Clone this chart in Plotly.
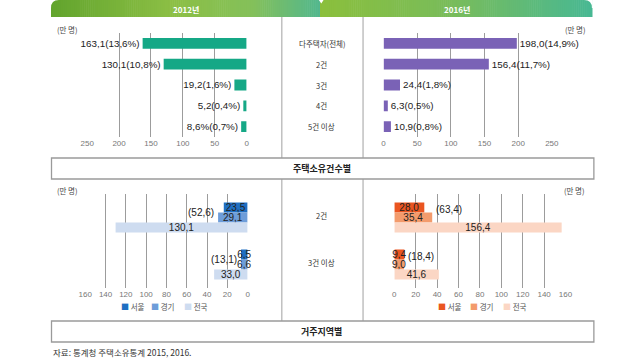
import plotly.graph_objects as go

W, H = 640, 360

# ---------------- data ----------------
count_cats = ["다주택자(전체)", "2건", "3건", "4건", "5건 이상"]
owners_2012 = [163.1, 130.1, 19.2, 5.2, 8.6]
share_2012 = [13.6, 10.8, 1.6, 0.4, 0.7]
owners_2016 = [198.0, 156.4, 24.4, 6.3, 10.9]
share_2016 = [14.9, 11.7, 1.8, 0.5, 0.8]
labels_2012 = ["163,1(13,6%)", "130,1(10,8%)", "19,2(1,6%)", "5,2(0,4%)", "8,6%(0,7%)"]
labels_2016 = ["198,0(14,9%)", "156,4(11,7%)", "24,4(1,8%)", "6,3(0,5%)", "10,9(0,8%)"]

region_cats = ["2건", "3건 이상"]
region_names = ["서울", "경기", "전국"]
seoul_2012 = [23.5, 6.5]
gyeonggi_2012 = [29.1, 6.6]
nation_2012 = [130.1, 33.0]
capital_2012 = [52.6, 13.1]
seoul_2016 = [28.0, 9.4]
gyeonggi_2016 = [35.4, 9.0]
nation_2016 = [156.4, 41.6]
capital_2016 = [63.4, 18.4]

count_ticks = [0, 50, 100, 150, 200, 250]
region_ticks = [0, 20, 40, 60, 80, 100, 120, 140, 160]

# ---------------- styles ----------------
KR = "Noto Sans CJK KR"
NUM = "Liberation Sans Narrow, Arial Narrow, Liberation Sans, Arial, sans-serif"
GREEN = "#15a886"
PURPLE = "#7a62b6"
BLUES = ["#1f6fc2", "#6e9dd9", "#cedcf0"]
ORANGES = ["#ea5520", "#f39b6c", "#fbd6c4"]
GRID = "#9c9c9c"


def px(x):
    return x / W


def py(y):
    return 1 - y / H


def fmt(v):
    return f"{v:.1f}".replace(".", ",")


fig = go.Figure()

# top charts
fig.add_trace(go.Bar(x=owners_2012, y=count_cats, orientation="h", xaxis="x", yaxis="y",
                     marker=dict(color=GREEN, line=dict(width=0)), width=0.52,
                     text=labels_2012, textposition="outside", cliponaxis=False, textangle=0,
                     textfont=dict(family=NUM, size=10, color="#222"),
                     showlegend=False, hoverinfo="skip"))
fig.add_trace(go.Bar(x=owners_2016, y=count_cats, orientation="h", xaxis="x2", yaxis="y2",
                     marker=dict(color=PURPLE, line=dict(width=0)), width=0.52,
                     text=labels_2016, textposition="outside", cliponaxis=False, textangle=0,
                     textfont=dict(family=NUM, size=10, color="#222"),
                     showlegend=False, hoverinfo="skip"))

# bottom charts
for series, col in zip([seoul_2012, gyeonggi_2012, nation_2012], BLUES):
    fig.add_trace(go.Bar(x=series, y=region_cats, orientation="h", xaxis="x3", yaxis="y3",
                         marker=dict(color=col, line=dict(width=0)),
                         text=[fmt(v) for v in series], textposition="inside", textangle=0,
                         insidetextanchor="middle", constraintext="none", cliponaxis=False,
                         textfont=dict(family=NUM, size=10, color="#222"),
                         showlegend=False, hoverinfo="skip"))
for series, col in zip([seoul_2016, gyeonggi_2016, nation_2016], ORANGES):
    fig.add_trace(go.Bar(x=series, y=region_cats, orientation="h", xaxis="x4", yaxis="y4",
                         marker=dict(color=col, line=dict(width=0)),
                         text=[fmt(v) for v in series], textposition="inside", textangle=0,
                         insidetextanchor="middle", constraintext="none", cliponaxis=False,
                         textfont=dict(family=NUM, size=10, color="#222"),
                         showlegend=False, hoverinfo="skip"))

xcommon = dict(showgrid=True, gridcolor=GRID, gridwidth=1, zeroline=False, showline=False,
               ticks="", tickfont=dict(family=NUM, size=8, color="#777"), fixedrange=True)
ycommon = dict(showgrid=False, showticklabels=False, zeroline=False, showline=False,
               autorange="reversed", type="category", fixedrange=True)

top_dom = [py(137), py(33)]
bot_dom = [py(288), py(194)]

fig.update_layout(
    xaxis=dict(domain=[px(82), px(245)], range=[250, 0], tickvals=count_ticks, anchor="y", **xcommon),
    yaxis=dict(domain=top_dom, anchor="x", **ycommon),
    xaxis2=dict(domain=[px(385), px(557)], range=[0, 250], tickvals=count_ticks, anchor="y2", **xcommon),
    yaxis2=dict(domain=top_dom, anchor="x2", **ycommon),
    xaxis3=dict(domain=[px(80), px(246)], range=[160, 0], tickvals=region_ticks, anchor="y3", **xcommon),
    yaxis3=dict(domain=bot_dom, anchor="x3", **ycommon),
    xaxis4=dict(domain=[px(396), px(571)], range=[0, 160], tickvals=region_ticks, anchor="y4", **xcommon),
    yaxis4=dict(domain=bot_dom, anchor="x4", **ycommon),
    barmode="group", bargap=0.36, bargroupgap=0,
    width=W, height=H, margin=dict(l=0, r=0, t=0, b=0),
    paper_bgcolor="white", plot_bgcolor="white",
    font=dict(family=KR, size=8, color="#333"),
)

shapes = []
annotations = []


def note(text, x, y, size, color, family=KR, xanchor="center", **kw):
    annotations.append(dict(text=text, x=px(x), y=py(y), xref="paper", yref="paper",
                            xanchor=xanchor, yanchor="middle", showarrow=False,
                            font=dict(family=family, size=size, color=color), **kw))


def lerp_color(stops, t):
    for (t0, c0), (t1, c1) in zip(stops[:-1], stops[1:]):
        if t0 <= t <= t1:
            f = 0 if t1 == t0 else (t - t0) / (t1 - t0)
            a = [int(c0[i:i + 2], 16) for i in (1, 3, 5)]
            b = [int(c1[i:i + 2], 16) for i in (1, 3, 5)]
            return "#" + "".join(f"{round(a[k] + (b[k] - a[k]) * f):02x}" for k in range(3))
    return stops[-1][1]


def tab(x0, x1, stops):
    step = 2
    x = x0
    while x < x1:
        xe = min(x + step, x1)
        t = ((x + xe) / 2 - x0) / (x1 - x0)
        shapes.append(dict(type="rect", xref="paper", yref="paper", x0=px(x), x1=px(xe + 0.6),
                           y0=py(17), y1=py(0), fillcolor=lerp_color(stops, t),
                           line=dict(width=0), layer="below"))
        x = xe


tab(45, 320, [(0, "#62a42d"), (0.45, "#8cbf45"), (0.75, "#84c05a"), (1, "#52b78e")])
tab(320, 598, [(0, "#8bbf3c"), (0.5, "#78bc5c"), (1, "#48b893")])

r = 8
# rounded corners masks
shapes.append(dict(type="path", xref="paper", yref="paper", layer="below",
                   path=f"M {px(44)},{py(-0.5)} L {px(45 + r)},{py(-0.5)} L {px(45 + r)},{py(0)} "
                        f"Q {px(45)},{py(0)} {px(45)},{py(r)} L {px(44)},{py(r)} Z",
                   fillcolor="white", line=dict(width=0)))
shapes.append(dict(type="path", xref="paper", yref="paper", layer="below",
                   path=f"M {px(599)},{py(-0.5)} L {px(598 - r)},{py(-0.5)} L {px(598 - r)},{py(0)} "
                        f"Q {px(598)},{py(0)} {px(598)},{py(r)} L {px(599)},{py(r)} Z",
                   fillcolor="white", line=dict(width=0)))
# centre notch
shapes.append(dict(type="path", xref="paper", yref="paper", layer="below",
                   path=f"M {px(318.5)},{py(-0.5)} L {px(324)},{py(-0.5)} L {px(321.3)},{py(3.5)} Z",
                   fillcolor="white", line=dict(width=0)))

note("<b>2012년</b>", 183, 9, 8, "white")
note("<b>2016년</b>", 460, 9, 8, "white")

# divider lines
for xx in (281, 364):
    shapes.append(dict(type="line", xref="paper", yref="paper", x0=px(xx), x1=px(xx),
                       y0=py(17), y1=py(158), line=dict(color="#a0a0a0", width=1)))
    shapes.append(dict(type="line", xref="paper", yref="paper", x0=px(xx), x1=px(xx),
                       y0=py(179), y1=py(321), line=dict(color="#a0a0a0", width=1)))

# section boxes
for (y0, y1, label) in ((158, 179, "주택소유건수별"), (321, 342, "거주지역별")):
    shapes.append(dict(type="rect", xref="paper", yref="paper", x0=px(45.5), x1=px(600),
                       y0=py(y1), y1=py(y0), line=dict(color="#9a9a9a", width=1.3),
                       fillcolor="white"))
    note(f"<b>{label}</b>", 322, (y0 + y1) / 2, 9, "#222")

# unit labels
for (xx, yy) in ((62, 29), (581, 29), (62, 190), (580, 190)):
    note("(만 명)", xx, yy, 7.5, "#444")

# middle category labels
for i, c in enumerate(count_cats):
    annotations.append(dict(text=c, x=px(322), y=i, xref="paper", yref="y2", showarrow=False,
                            xanchor="center", yanchor="middle",
                            font=dict(family=KR, size=7.5, color="#333")))
for i, c in enumerate(region_cats):
    annotations.append(dict(text=c, x=px(322), y=i, xref="paper", yref="y4", showarrow=False,
                            xanchor="center", yanchor="middle", yshift=2,
                            font=dict(family=KR, size=7.5, color="#333")))

# capital-area totals
for i in range(2):
    annotations.append(dict(text=f"({fmt(capital_2012[i])})", x=max(seoul_2012[i], gyeonggi_2012[i]),
                            y=i, xref="x3", yref="y3", xanchor="right", yanchor="middle",
                            showarrow=False, xshift=-2, yshift=5,
                            font=dict(family=NUM, size=10, color="#222")))
    annotations.append(dict(text=f"({fmt(capital_2016[i])})", x=max(seoul_2016[i], gyeonggi_2016[i]),
                            y=i, xref="x4", yref="y4", xanchor="left", yanchor="middle",
                            showarrow=False, xshift=2, yshift=8,
                            font=dict(family=NUM, size=10, color="#222")))

# legends
for xs, cols in (((114, 145, 179), BLUES), ((439, 471, 505), ORANGES)):
    for xx, name, col in zip(xs, region_names, cols):
        note(f'<span style="color:{col};font-size:8px">■</span> {name}', xx, 306, 7.5, "#555",
             xanchor="left")

note("자료: 통계청 주택소유통계 2015, 2016.", 45, 352, 8.5, "#333", xanchor="left")

fig.update_layout(shapes=shapes, annotations=annotations)
fig.write_html("out.html", config={"displayModeBar": False},
               post_script="document.body.style.margin='0';document.body.style.overflow='hidden';")
